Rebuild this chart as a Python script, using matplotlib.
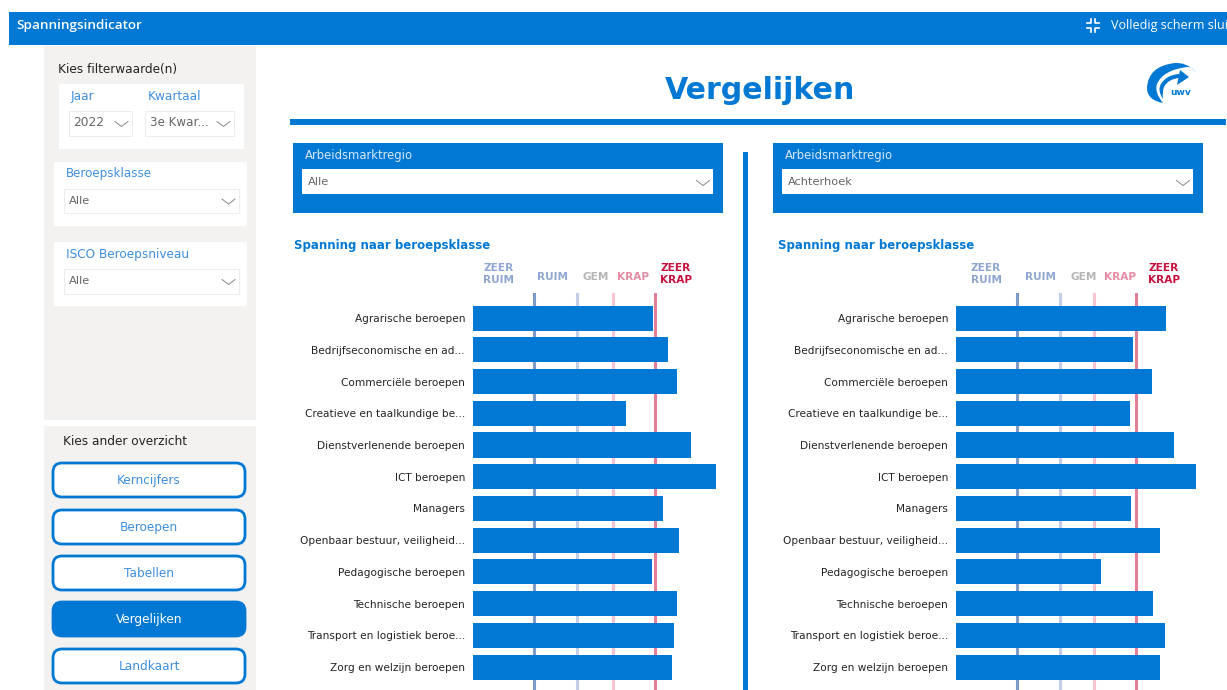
import matplotlib
matplotlib.use('Agg')
import matplotlib.pyplot as plt
from matplotlib.patches import Rectangle, FancyBboxPatch, PathPatch, Polygon
from matplotlib.path import Path

plt.rcParams['font.family'] = 'DejaVu Sans'

BLUE = '#0078D4'
GREY_BG = '#F3F2F1'
LINK = '#3F8FDF'

categories = ['Agrarische beroepen', 'Bedrijfseconomische en ad...', 'Commerciële beroepen',
              'Creatieve en taalkundige be...', 'Dienstverlenende beroepen', 'ICT beroepen',
              'Managers', 'Openbaar bestuur, veiligheid...', 'Pedagogische beroepen',
              'Technische beroepen', 'Transport en logistiek beroe...', 'Zorg en welzijn beroepen']
# bar lengths
alle_values = [180, 195, 204, 153, 218, 243, 190, 206, 179, 204, 201, 199]
achterhoek_values = [210, 177, 196, 174, 218, 240, 175, 204, 145, 197, 209, 204]
# vertical reference lines
alle_refs = [61, 104, 140, 182]
achterhoek_refs = [61, 104, 138, 180]
ref_colors = ['#7F9BCB', '#C3CFE6', '#F5C6D2', '#E57F98']
menu_items = ['Kerncijfers', 'Beroepen', 'Tabellen', 'Vergelijken', 'Landkaart']
menu_y = [462, 509, 555, 601, 648]

fig = plt.figure(figsize=(12.27, 6.9), dpi=100)
bg = fig.add_axes([0, 0, 1, 1])
bg.set_xlim(0, 1227)
bg.set_ylim(690, 0)
bg.axis('off')


def box(x, y, w, h, color, **kw):
    bg.add_patch(Rectangle((x, y), w, h, facecolor=color, edgecolor='none', **kw))


def chevron(x, y, w=6.5, h=5):
    bg.plot([x - w, x, x + w], [y - h / 2, y + h / 2, y - h / 2], color='#8a8886', lw=0.7)


def dropdown(x, y, w, h, label, size=8.2, edge='#EDEDED'):
    bg.add_patch(Rectangle((x, y), w, h, facecolor='white', edgecolor=edge, lw=0.8))
    bg.text(x + 5, y + h / 2, label, color='#666666', fontsize=size, va='center')
    chevron(x + w - 10, y + h / 2 + 1)


# top bar
box(9, 12, 1218, 33, BLUE)
bg.text(16, 25, 'Spanningsindicator', color='white', fontsize=9.7, family='Open Sans',
        weight='semibold', va='center')
# only this much of the label is on screen
bg.text(1111, 25.5, 'Volledig scherm slui', color='white', fontsize=9, family='Open Sans', va='center')
for sx, sy in [(-1, -1), (1, -1), (-1, 1), (1, 1)]:
    cx, cy = 1093 + sx * 2, 25.5 + sy * 2.5
    bg.plot([cx + sx * 4, cx, cx], [cy, cy, cy + sy * 4], color='white', lw=1.2)

# left panel
box(44, 46, 212, 374, GREY_BG)
box(44, 426, 212, 264, GREY_BG)
bg.text(58, 70, 'Kies filterwaarde(n)', color='#252423', fontsize=8.7, va='center')
box(59, 84, 185, 65, 'white')
bg.text(71, 96.5, 'Jaar', color=LINK, fontsize=8.7, va='center')
bg.text(148, 96.5, 'Kwartaal', color=LINK, fontsize=8.7, va='center')
dropdown(68.5, 110.5, 63, 25, '2022', size=8.8)
dropdown(144.5, 110.5, 89, 25, '3e Kwar...', size=8.6)
box(54, 162, 193, 64, 'white')
bg.text(66, 174, 'Beroepsklasse', color=LINK, fontsize=8.6, va='center')
dropdown(63.5, 188.5, 175, 24, 'Alle')
box(54, 242, 193, 64, 'white')
bg.text(66, 254.5, 'ISCO Beroepsniveau', color=LINK, fontsize=8.7, va='center')
dropdown(63.5, 268.5, 175, 25, 'Alle')

bg.text(63, 441.5, 'Kies ander overzicht', color='#252423', fontsize=8.7, va='center')
for name, y in zip(menu_items, menu_y):
    active = name == 'Vergelijken'
    bg.add_patch(FancyBboxPatch((53, y + 1), 192, 34, boxstyle='round,pad=0,rounding_size=9',
                                facecolor=BLUE if active else 'white', edgecolor=BLUE, lw=2))
    bg.text(149, y + 18.5, name, color='white' if active else LINK, fontsize=8.7, ha='center', va='center')

# title
bg.text(760, 90.5, 'Vergelijken', color=BLUE, fontsize=21.6, weight='bold', ha='center', va='center')
box(290, 119, 936, 6, BLUE)
box(743, 152, 5, 538, BLUE)

# logo
swoosh = Path([(1196, 72), (1186, 62), (1175, 63), (1148, 66), (1147, 88), (1147, 100), (1163, 103),
               (1154, 92), (1157, 84), (1163, 70), (1187, 67), (1192, 67), (1196, 72)],
              [Path.MOVETO] + [Path.CURVE3] * 12)
bg.add_patch(PathPatch(swoosh, facecolor=BLUE, edgecolor='none'))
shaft = Path([(1163, 99), (1157, 90), (1161, 84), (1166, 75), (1179, 74), (1179, 78), (1168, 79),
              (1164, 87), (1162, 92), (1163, 99)],
             [Path.MOVETO, Path.CURVE3, Path.CURVE3, Path.CURVE3, Path.CURVE3, Path.LINETO,
              Path.CURVE3, Path.CURVE3, Path.CURVE3, Path.CURVE3])
bg.add_patch(PathPatch(shaft, facecolor=BLUE, edgecolor='none'))
bg.add_patch(Polygon([(1180, 70), (1189, 77), (1177, 85)], facecolor=BLUE, edgecolor='none'))
bg.text(1181, 92.5, 'uwv', color=BLUE, fontsize=6.5, weight='bold', ha='center', va='center')

# region boxes
for x, label in [(293, 'Alle'), (773, 'Achterhoek')]:
    box(x, 143, 430, 70, BLUE)
    bg.text(x + 12, 155, 'Arbeidsmarktregio', color='#D5E8F8', fontsize=8.4, va='center')
    box(x + 9, 169, 411, 25, 'white')
    bg.text(x + 15, 182, label, color='#666666', fontsize=8.2, va='center')
    chevron(x + 410, 183)


def spanning_chart(left, title_x, header_x, values, refs):
    bg.text(title_x, 245, 'Spanning naar beroepsklasse', color=BLUE, fontsize=8.5, weight='bold', va='center')
    hc = [('ZEER\nRUIM', header_x[0], '#8FA6D3'), ('RUIM', header_x[1], '#8FA6D3'),
          ('GEM', header_x[2], '#B5B5B5'), ('KRAP', header_x[3], '#E58BA2'),
          ('ZEER\nKRAP', header_x[4], '#C8103E')]
    for txt, x, c in hc:
        bg.text(x, 274 if '\n' in txt else 277, txt, color=c, fontsize=7.6, weight='bold', ha='center',
                va='center', linespacing=1.25)
    ax = fig.add_axes([left / 1227, 0, 260 / 1227, (690 - 293) / 690])
    ax.patch.set_alpha(0)
    ax.set_xlim(0, 260)
    ax.set_ylim(11.72, -0.79)
    for r, c in zip(refs, ref_colors):
        ax.axvline(r, color=c, lw=2.2, zorder=1)
    ax.barh(range(len(categories)), values, height=0.79, color=BLUE, zorder=2)
    ax.set_yticks(range(len(categories)))
    ax.set_yticklabels(categories, fontsize=7.6, color='#252423')
    ax.tick_params(axis='y', length=0, pad=5.7)
    ax.set_xticks([])
    for s in ax.spines.values():
        s.set_visible(False)


spanning_chart(473, 294, [499, 553, 596, 633, 676], alle_values, alle_refs)
spanning_chart(956, 778, [986, 1041, 1084, 1120, 1164], achterhoek_values, achterhoek_refs)

fig.savefig('out.png', dpi=100)
